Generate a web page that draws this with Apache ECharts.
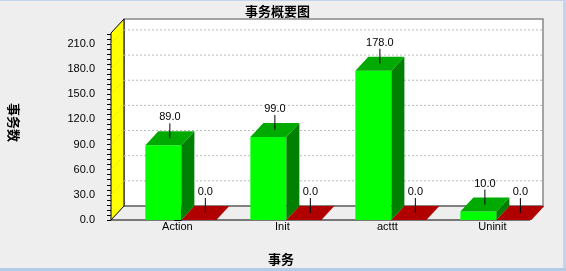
<!DOCTYPE html>
<html>
<head>
<meta charset="utf-8">
<script src="https://cdn.jsdelivr.net/npm/echarts@6/dist/echarts.min.js"></script>
<style>
html,body{margin:0;padding:0;background:#EEEEEE;}
#chart{width:566px;height:271px;}
</style>
</head>
<body>
<div id="chart"></div>
<script>
// ---- data ----
const categories = ['Action', 'Init', 'acttt', 'Uninit'];
const seriesA = [89, 99, 178, 10];   // green
const seriesB = [0, 0, 0, 0];        // red
const yTicks = [0, 30, 60, 90, 120, 150, 180, 210];
const title = '事务概要图';
const xName = '事务';
const yName = '事务数';

// ---- layout / style constants ----
const Y_MAX = 223;
const X_MIN = -0.67, X_MAX = 3.32;
const DX = 13, DY = -14;       // 3D depth offset in px
const LABEL_FONT = '11px "Liberation Sans", Arial, sans-serif';
const CJK_FONT = 'bold 13px "Noto Sans CJK SC", sans-serif';

const minorTicks = [];
for (let v = 0; v <= Y_MAX; v += 6) minorTicks.push(v);

function frameRender(params, api) {
  const bl = api.coord([X_MIN, 0]);
  const br = api.coord([X_MAX, 0]);
  const tl = api.coord([X_MIN, Y_MAX]);
  const L = bl[0], R = br[0], B = bl[1], T = tl[1];
  const children = [];
  // back wall
  children.push({type: 'rect', shape: {x: L + DX, y: T + DY, width: R - L, height: B - T},
    style: {fill: '#FFFFFF', stroke: '#888888', lineWidth: 1.5}});
  // back wall bottom edge
  children.push({type: 'line', shape: {x1: L + DX, y1: B + DY, x2: R + DX, y2: B + DY},
    style: {stroke: '#808080', lineWidth: 2}});
  // left wall
  children.push({type: 'polygon', shape: {points: [[L, B], [L + DX, B + DY], [L + DX, T + DY], [L, T]]},
    style: {fill: '#FFFF00', stroke: '#000000', lineWidth: 1}});
  // gridlines
  yTicks.forEach(function (v) {
    if (v === 0) return;
    const y = api.coord([X_MIN, v])[1];
    children.push({type: 'line', shape: {x1: L + DX, y1: y + DY, x2: R + DX, y2: y + DY},
      style: {stroke: '#BBBBBB', lineWidth: 1, lineDash: [2, 2]}});
    children.push({type: 'line', shape: {x1: L, y1: y, x2: L + DX, y2: y + DY},
      style: {stroke: '#BBBB88', lineWidth: 1, lineDash: [1, 2]}});
  });
  // front x axis line
  children.push({type: 'line', shape: {x1: L, y1: B, x2: R, y2: B},
    style: {stroke: '#000000', lineWidth: 1}});
  // category labels
  categories.forEach(function (c, i) {
    const p = api.coord([i, 0]);
    children.push({type: 'text', x: p[0] - 4, y: B + 7,
      style: {text: c, font: LABEL_FONT, fill: '#000000', align: 'center', textAlign: 'center',
        verticalAlign: 'middle', textVerticalAlign: 'middle'}});
  });
  return {type: 'group', children: children};
}

function makeBarRender(side, colors) {
  return function (params, api) {
    const i = api.value(0), v = api.value(1);
    const base = api.coord([i, 0]);
    const top = api.coord([i, v]);
    const bw = api.size([1, 0])[0];
    const w = side === 0 ? 0.343 * bw : 0.333 * bw;
    const x0 = side === 0 ? base[0] - w : base[0];
    const x1 = x0 + w;
    const yb = base[1], yt = top[1];
    const children = [];
    if (yb - yt > 0.5) {
      children.push({type: 'rect', shape: {x: x0, y: yt, width: w, height: yb - yt},
        style: {fill: colors.front}});
      children.push({type: 'polygon', shape: {points: [[x1, yt], [x1 + DX, yt + DY], [x1 + DX, yb + DY], [x1, yb]]},
        style: {fill: colors.side}});
    }
    children.push({type: 'polygon', shape: {points: [[x0, yt], [x1, yt], [x1 + DX, yt + DY], [x0 + DX, yt + DY]]},
      style: {fill: colors.top}});
    const cx = (x0 + x1) / 2 + DX / 2, cy = yt + DY / 2;
    children.push({type: 'line', shape: {x1: cx, y1: cy - 15, x2: cx, y2: cy},
      style: {stroke: '#000000', lineWidth: 1}});
    children.push({type: 'text', x: cx, y: cy - 21,
      style: {text: v.toFixed(1), font: LABEL_FONT, fill: '#000000', align: 'center', textAlign: 'center',
        verticalAlign: 'middle', textVerticalAlign: 'middle'}});
    return {type: 'group', children: children};
  };
}

const chart = echarts.init(document.getElementById('chart'), null, {renderer: 'canvas'});
const option = {
  backgroundColor: '#EEEEEE',
  animation: false,
  grid: {left: 111, top: 33, right: 36, bottom: 51, containLabel: false},
  xAxis: {type: 'value', min: X_MIN, max: X_MAX, show: false},
  yAxis: [{
    type: 'value', min: 0, max: Y_MAX, position: 'left',
    axisLine: {show: true, lineStyle: {color: '#000000', width: 1}},
    axisTick: {show: true, length: 7, customValues: yTicks, lineStyle: {color: '#000000'}},
    axisLabel: {show: true, customValues: yTicks, margin: 16, color: '#000000',
      fontFamily: '"Liberation Sans", Arial, sans-serif', fontSize: 11,
      formatter: function (v) { return Number(v).toFixed(1); }},
    splitLine: {show: false}
  }, {
    type: 'value', min: 0, max: Y_MAX, position: 'left',
    axisLine: {show: false},
    axisTick: {show: true, length: 4, customValues: minorTicks, lineStyle: {color: '#000000'}},
    axisLabel: {show: false},
    splitLine: {show: false}
  }],
  graphic: [
    {type: 'text', x: 277.5, y: 11, style: {text: title, font: CJK_FONT, fill: '#000000',
      align: 'center', textAlign: 'center', verticalAlign: 'middle', textVerticalAlign: 'middle'}},
    {type: 'text', x: 281, y: 259, style: {text: xName, font: CJK_FONT, fill: '#000000',
      align: 'center', textAlign: 'center', verticalAlign: 'middle', textVerticalAlign: 'middle'}},
    {type: 'text', x: 14, y: 122.5, rotation: -Math.PI / 2, style: {text: yName, font: CJK_FONT, fill: '#000000',
      align: 'center', textAlign: 'center', verticalAlign: 'middle', textVerticalAlign: 'middle'}},
    {type: 'rect', shape: {x: 0, y: 0, width: 566, height: 1}, style: {fill: '#C2D5EC'}},
    {type: 'rect', shape: {x: 563, y: 0, width: 3, height: 271}, style: {fill: '#C2D5EC'}},
    {type: 'rect', shape: {x: 0, y: 268, width: 566, height: 3}, style: {fill: '#B4CBE6'}}
  ],
  series: [
    {type: 'custom', name: 'frame', z: 1, renderItem: frameRender, data: [[0, 0]], silent: true},
    {type: 'custom', name: 'A', z: 2, renderItem: makeBarRender(0, {front: '#00FF00', top: '#00AA00', side: '#008000'}),
      data: categories.map(function (c, i) { return [i, seriesA[i]]; })},
    {type: 'custom', name: 'B', z: 2, renderItem: makeBarRender(1, {front: '#FF0000', top: '#B00000', side: '#800000'}),
      data: categories.map(function (c, i) { return [i, seriesB[i]]; })}
  ]
};
chart.setOption(option);
</script>
</body>
</html>
